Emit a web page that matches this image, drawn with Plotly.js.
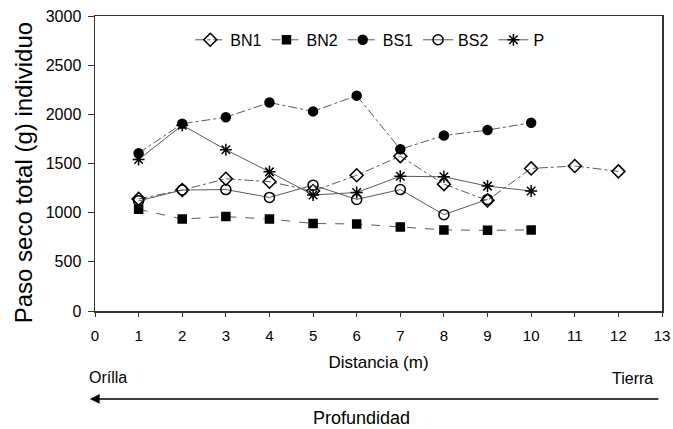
<!DOCTYPE html>
<html>
<head>
<meta charset="utf-8">
<script src="https://cdn.plot.ly/plotly-3.0.1.min.js"></script>
<style>html,body{margin:0;padding:0;background:#fff;}#chart{width:673px;height:429px;}</style>
</head>
<body>
<div id="chart"></div>
<script>
const distancia = [1,2,3,4,5,6,7,8,9,10,11,12];
const bn1 = [1140,1230,1345,1315,1220,1380,1575,1290,1125,1450,1475,1420];
const bn2 = [1035,935,960,935,890,885,855,825,820,825];
const bs1 = [1605,1905,1970,2120,2030,2190,1645,1785,1840,1915];
const bs2 = [1120,1230,1235,1155,1280,1135,1235,980,1135];
const p   = [1540,1890,1640,1415,1180,1205,1370,1365,1270,1220];
const xTicks = [0,1,2,3,4,5,6,7,8,9,10,11,12,13];
const yTicks = [0,500,1000,1500,2000,2500,3000];

const lineCol = '#5a5a5a';
function tr(name, ys, sym, dash, msize){
  return {
    x: distancia.slice(0, ys.length), y: ys, name: name, type: 'scatter', mode: 'lines+markers',
    line: {color: lineCol, width: 1, dash: dash},
    marker: {symbol: sym, size: msize, color: '#000', line: {color: '#000', width: 1.5}}
  };
}
const data = [
  tr('BN1', bn1, 'diamond-open', 'dashdot', 10),
  tr('BN2', bn2, 'square', 'dash', 8),
  tr('BS1', bs1, 'circle', 'dashdot', 9),
  tr('BS2', bs2, 'circle-open', 'solid', 10),
  tr('P', p, 'asterisk-open', 'solid', 10)
];
const font = {family: 'Liberation Sans, Arial, sans-serif', color: '#000'};
const f = s => Object.assign({size: s}, font);
const layout = {
  width: 673, height: 429,
  margin: {l: 95, r: 11, t: 16, b: 118},
  paper_bgcolor: '#fff', plot_bgcolor: '#fff',
  font: f(15),
  showlegend: true,
  legend: {orientation: 'h', x: 0.168, y: 0.919, xanchor: 'left', yanchor: 'middle',
           font: f(16), bgcolor: 'rgba(0,0,0,0)', itemsizing: 'trace'},
  xaxis: {range: [0, 13], tickvals: xTicks, ticktext: xTicks.map(String), showgrid: false, zeroline: false,
          showline: true, mirror: true, linecolor: '#333', linewidth: 1.5, ticks: 'outside', ticklen: 4, tickcolor: '#333',
          tickfont: f(15), ticklabelstandoff: 6,
          title: {text: 'Distancia (m)', font: f(17), standoff: 13}},
  yaxis: {range: [0, 3000], tickvals: yTicks, ticktext: yTicks.map(String), showgrid: false, zeroline: false,
          showline: true, mirror: true, linecolor: '#333', linewidth: 1.5, ticks: 'outside', ticklen: 6, tickcolor: '#333',
          tickfont: f(16), ticklabelstandoff: 3},
  annotations: [
    {text: 'Paso seco total (g) individuo', xref: 'paper', yref: 'paper', x: -0.127, y: 0.47, textangle: -90,
     showarrow: false, xanchor: 'center', yanchor: 'middle', font: f(24)},
    {text: 'Orílla', xref: 'paper', yref: 'paper', x: -0.014, y: -0.225, showarrow: false,
     xanchor: 'left', yanchor: 'middle', font: f(16)},
    {text: 'Tierra', xref: 'paper', yref: 'paper', x: 0.988, y: -0.228, showarrow: false,
     xanchor: 'right', yanchor: 'middle', font: f(16)},
    {text: 'Profundidad', xref: 'paper', yref: 'paper', x: 0.47, y: -0.363, showarrow: false,
     xanchor: 'center', yanchor: 'middle', font: f(18)},
    {text: '', xref: 'paper', yref: 'paper', x: -0.009, y: -0.298, ax: 570, ay: 0,
     showarrow: true, arrowhead: 2, arrowsize: 1.3, arrowwidth: 1.5, arrowcolor: '#000'}
  ]
};
Plotly.newPlot('chart', data, layout, {displayModeBar: false, staticPlot: true});
</script>
</body>
</html>
